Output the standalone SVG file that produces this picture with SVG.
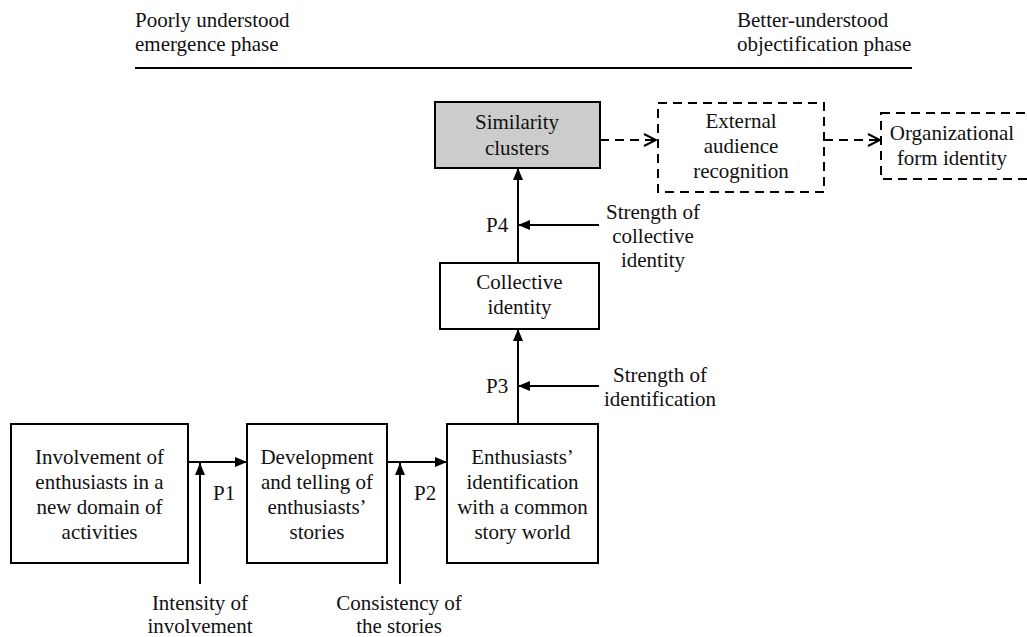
<svg xmlns="http://www.w3.org/2000/svg" width="1027" height="637" viewBox="0 0 1027 637">
<style>
text{font-family:"Liberation Serif","Times New Roman",serif;font-size:21px;fill:#111}
.c{text-anchor:middle}
.box{fill:#fff;stroke:#000;stroke-width:2}
.dash{fill:#fff;stroke:#000;stroke-width:2;stroke-dasharray:9,6}
.ln{stroke:#000;stroke-width:2;fill:none}
.dl{stroke:#000;stroke-width:2;fill:none;stroke-dasharray:9,6}
</style>
<defs>
<marker id="ah" markerWidth="12" markerHeight="10" refX="12" refY="5" orient="auto" markerUnits="userSpaceOnUse"><path d="M0,0 L12,5 L0,10 Z" fill="#000"/></marker>
<marker id="oh" markerWidth="14" markerHeight="14" refX="13" refY="7" orient="auto" markerUnits="userSpaceOnUse"><path d="M1,1 L13,7 L1,13" fill="none" stroke="#000" stroke-width="2"/></marker>
</defs>
<g id="header">
<text x="135" y="27">Poorly understood</text>
<text x="135" y="51">emergence phase</text>
<text x="737" y="27">Better-understood</text>
<text x="737" y="51">objectification phase</text>
<line x1="135" y1="68" x2="912" y2="68" stroke="#000" stroke-width="2"/>
</g>
<g id="connectors">
<line class="ln" x1="188" y1="462" x2="247" y2="462" marker-end="url(#ah)"/>
<line class="ln" x1="200" y1="584" x2="200" y2="463" marker-end="url(#ah)"/>
<line class="ln" x1="387" y1="462" x2="447" y2="462" marker-end="url(#ah)"/>
<line class="ln" x1="400" y1="584" x2="400" y2="463" marker-end="url(#ah)"/>
<line class="ln" x1="518" y1="424" x2="518" y2="329" marker-end="url(#ah)"/>
<line class="ln" x1="599" y1="386" x2="518" y2="386" marker-end="url(#ah)"/>
<line class="ln" x1="518" y1="263" x2="518" y2="168" marker-end="url(#ah)"/>
<line class="ln" x1="599" y1="225" x2="518" y2="225" marker-end="url(#ah)"/>
<line class="dl" x1="600" y1="140" x2="656" y2="140" marker-end="url(#oh)"/>
<line class="dl" x1="824" y1="140" x2="880" y2="140" marker-end="url(#oh)"/>
</g>
<g id="labels">
<text x="213" y="500">P1</text>
<text x="414" y="500">P2</text>
<text x="486" y="393">P3</text>
<text x="486" y="232">P4</text>
<text class="c" x="200" y="610">Intensity of</text>
<text class="c" x="200" y="633">involvement</text>
<text class="c" x="399" y="610">Consistency of</text>
<text class="c" x="399" y="633">the stories</text>
<text class="c" x="660" y="382">Strength of</text>
<text class="c" x="660" y="406">identification</text>
<text class="c" x="653" y="219">Strength of</text>
<text class="c" x="653" y="243">collective</text>
<text class="c" x="653" y="267">identity</text>
</g>
<g id="node-involvement">
<rect class="box" x="11" y="424" width="177" height="139"/>
<text class="c" x="99.5" y="464">Involvement of</text>
<text class="c" x="99.5" y="489">enthusiasts in a</text>
<text class="c" x="99.5" y="514">new domain of</text>
<text class="c" x="99.5" y="539">activities</text>
</g>
<g id="node-development">
<rect class="box" x="247" y="424" width="140" height="139"/>
<text class="c" x="317" y="464">Development</text>
<text class="c" x="317" y="489">and telling of</text>
<text class="c" x="317" y="514">enthusiasts’</text>
<text class="c" x="317" y="539">stories</text>
</g>
<g id="node-identification">
<rect class="box" x="447" y="424" width="151" height="139"/>
<text class="c" x="522.5" y="464">Enthusiasts’</text>
<text class="c" x="522.5" y="489">identification</text>
<text class="c" x="522.5" y="514">with a common</text>
<text class="c" x="522.5" y="539">story world</text>
</g>
<g id="node-collective">
<rect class="box" x="440" y="263" width="159" height="66"/>
<text class="c" x="519.5" y="289">Collective</text>
<text class="c" x="519.5" y="314">identity</text>
</g>
<g id="node-similarity">
<rect class="box" x="435" y="102" width="165" height="66" style="fill:#cccccc"/>
<text class="c" x="517" y="129">Similarity</text>
<text class="c" x="517" y="155">clusters</text>
</g>
<g id="node-external">
<rect class="dash" x="658" y="103" width="166" height="89"/>
<text class="c" x="741" y="128">External</text>
<text class="c" x="741" y="153">audience</text>
<text class="c" x="741" y="178">recognition</text>
</g>
<g id="node-orgform">
<rect class="dash" x="881" y="113" width="160" height="66"/>
<text class="c" x="952" y="140">Organizational</text>
<text class="c" x="952" y="165">form identity</text>
</g>
</svg>
